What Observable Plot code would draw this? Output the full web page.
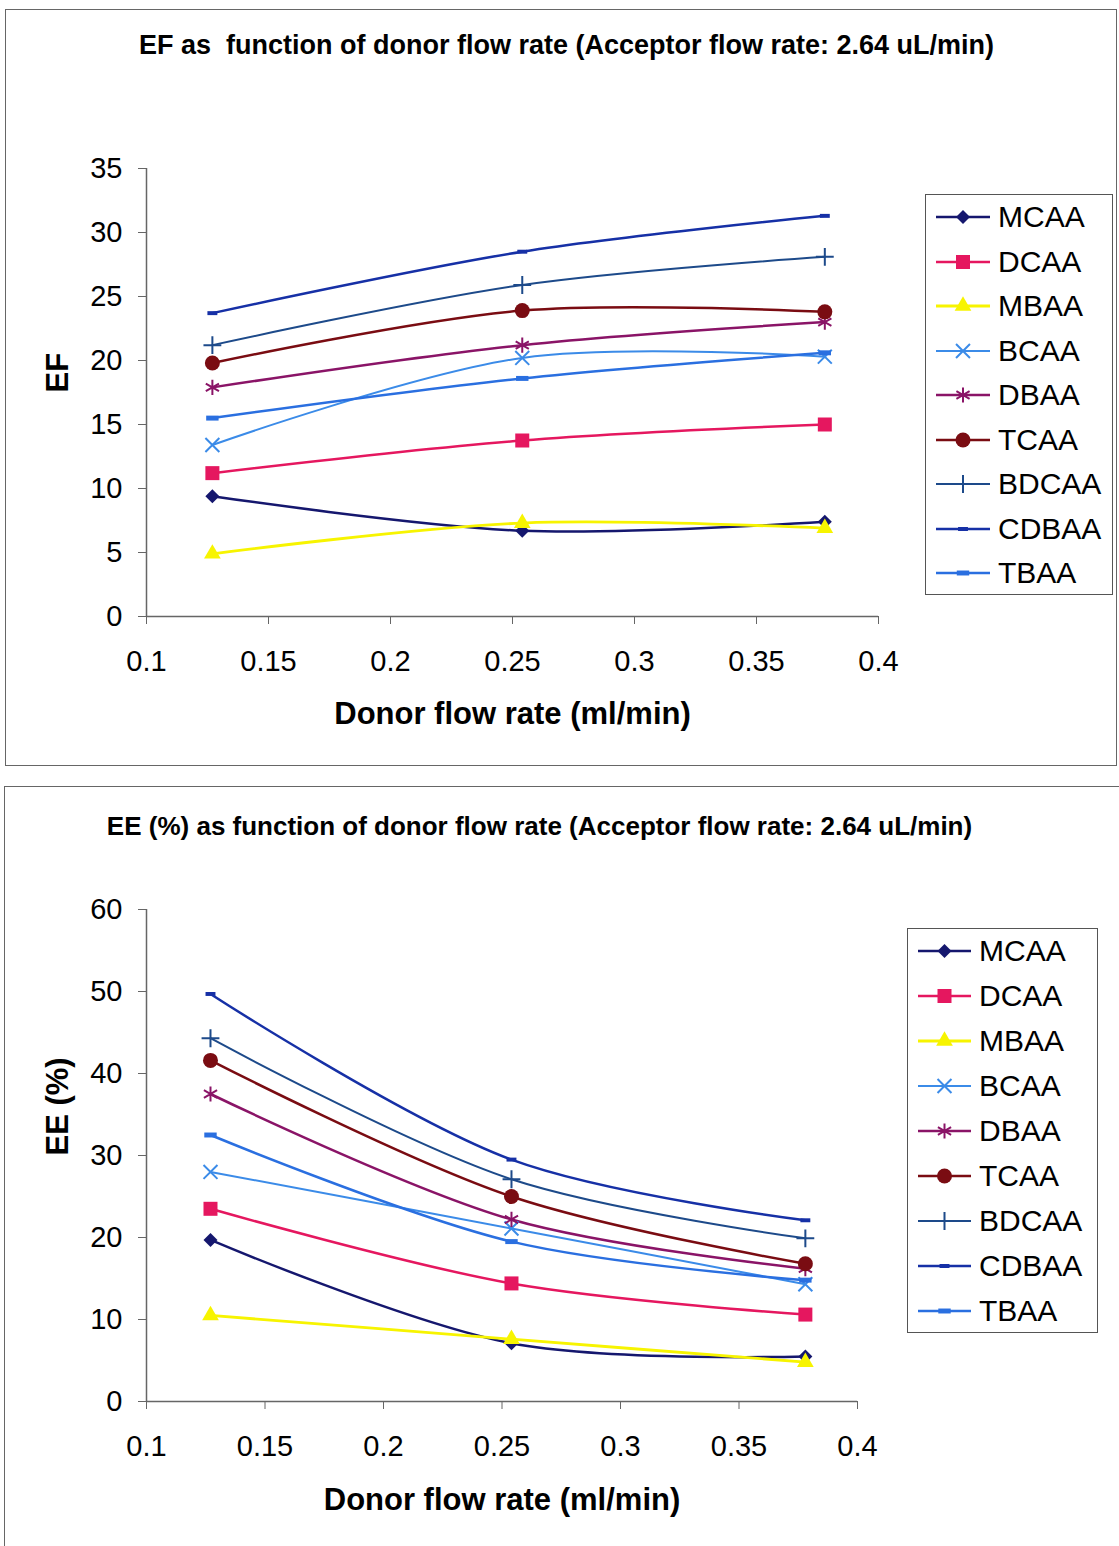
<!DOCTYPE html>
<html><head><meta charset="utf-8">
<script src="https://cdn.jsdelivr.net/npm/d3@7"></script>
<script src="https://cdn.jsdelivr.net/npm/@observablehq/plot@0.6"></script>
<style>
body{margin:0;background:#fff;font-family:"Liberation Sans",Arial,sans-serif;}
#page{position:relative;width:1119px;height:1546px;overflow:hidden;background:#fff;}
.panel{position:absolute;border:1.5px solid #666;box-sizing:border-box;}
.chart{position:absolute;left:0;}
.chart svg text{white-space:pre;}
.legend{position:absolute;border:1.5px solid #555;background:#fff;box-sizing:border-box;}
.legend .row{display:flex;align-items:center;font-size:30px;color:#000;}
.legend svg{display:block;overflow:visible;}
</style></head><body><div id="page"></div>
<script>
// ---- data ----
const flowRates = [0.127, 0.254, 0.378];
const species = ["MCAA", "DCAA", "MBAA", "BCAA", "DBAA", "TCAA", "BDCAA", "CDBAA", "TBAA"];
const xTicks = [0.1, 0.15, 0.2, 0.25, 0.3, 0.35, 0.4];
const efTicks = [0, 5, 10, 15, 20, 25, 30, 35];
const eeTicks = [0, 10, 20, 30, 40, 50, 60];

// EF values (at the three donor flow rates)
const EF_MCAA  = [9.4, 6.7, 7.4];
const EF_DCAA  = [11.2, 13.75, 15.0];
const EF_MBAA  = [4.9, 7.3, 6.9];
const EF_BCAA  = [13.4, 20.2, 20.3];
const EF_DBAA  = [17.9, 21.2, 23.0];
const EF_TCAA  = [19.8, 23.9, 23.8];
const EF_BDCAA = [21.2, 25.9, 28.1];
const EF_CDBAA = [23.7, 28.5, 31.3];
const EF_TBAA  = [15.5, 18.6, 20.6];

// EE (%) values
const EE_MCAA  = [19.7, 7.1, 5.5];
const EE_DCAA  = [23.5, 14.4, 10.6];
const EE_MBAA  = [10.5, 7.6, 4.8];
const EE_BCAA  = [28.0, 21.1, 14.3];
const EE_DBAA  = [37.5, 22.2, 16.2];
const EE_TCAA  = [41.6, 25.0, 16.8];
const EE_BDCAA = [44.3, 27.1, 19.9];
const EE_CDBAA = [49.7, 29.5, 22.1];
const EE_TBAA  = [32.5, 19.5, 14.8];

const efSeries = [EF_MCAA, EF_DCAA, EF_MBAA, EF_BCAA, EF_DBAA, EF_TCAA, EF_BDCAA, EF_CDBAA, EF_TBAA];
const eeSeries = [EE_MCAA, EE_DCAA, EE_MBAA, EE_BCAA, EE_DBAA, EE_TCAA, EE_BDCAA, EE_CDBAA, EE_TBAA];

// ---- styles ----
const dash = {draw(ctx, size) { const s = Math.sqrt(size); ctx.rect(-s / 2, -s / 5, s, s * 0.4); }};
const colors = ["#15176e", "#e5175f", "#f7f400", "#3b8be8", "#8a1467", "#7a0c12", "#1d4a8a", "#1630a6", "#2a6fe0"];
const symbols = [d3.symbolDiamond2, d3.symbolSquare, d3.symbolTriangle, d3.symbolTimes, d3.symbolAsterisk, d3.symbolCircle, d3.symbolPlus, dash, dash];
const filled = [true, true, true, false, false, true, false, true, true];
const radii = [6.3, 7.9, 6.2, 6.4, 7.2, 7.5, 5.8, 5.6, 7];
const widths = [2.5, 2.5, 2.8, 2, 2.5, 2.5, 2, 2.5, 2.5];

function tidy(series) {
  const rows = [];
  species.forEach((s, i) => series[i].forEach((v, j) => rows.push({species: s, flow: flowRates[j], value: v})));
  return rows;
}

function makeChart(cfg) {
  const data = tidy(cfg.series);
  const marks = [
    Plot.ruleX([0.1], {stroke: "#666", strokeWidth: 1.5}),
    Plot.ruleY([0], {stroke: "#666", strokeWidth: 1.5}),
    Plot.axisX({ticks: xTicks, tickFormat: d => String(+d.toFixed(2)), tickSize: 8, tickPadding: 26, fontSize: 29, stroke: "#666", fill: "#000", label: null}),
    Plot.axisY({ticks: cfg.yTicks, tickSize: 8, tickPadding: 16, fontSize: 29, stroke: "#666", fill: "#000", label: null}),
    Plot.text([cfg.xlabel], {frameAnchor: "bottom", lineAnchor: "middle", dy: cfg.xlabelDy, fontWeight: "bold", fontSize: 31, fill: "#000"}),
    Plot.text([cfg.ylabel], {frameAnchor: "left", lineAnchor: "middle", dx: -88, rotate: -90, fontWeight: "bold", fontSize: 31, fill: "#000"}),
    Plot.text([cfg.title], {frameAnchor: "top", lineAnchor: "middle", dx: cfg.titleDx, dy: cfg.titleDy, fontWeight: "bold", fontSize: cfg.titleSize, fill: "#000"})
  ];
  species.forEach((s, i) => {
    const d = data.filter(r => r.species === s);
    marks.push(Plot.line(d, {x: "flow", y: "value", stroke: colors[i], strokeWidth: widths[i], curve: "catmull-rom"}));
  });
  species.forEach((s, i) => {
    const d = data.filter(r => r.species === s);
    marks.push(Plot.dot(d, {
      x: "flow", y: "value", symbol: symbols[i], r: radii[i],
      fill: filled[i] ? colors[i] : "none",
      stroke: filled[i] ? "none" : colors[i],
      strokeWidth: 2
    }));
  });
  return Plot.plot({
    width: 1119, height: cfg.height,
    marginLeft: 146, marginRight: cfg.marginRight, marginTop: cfg.marginTop, marginBottom: cfg.marginBottom,
    style: {background: "transparent", fontFamily: "'Liberation Sans', Arial, sans-serif", overflow: "visible"},
    x: {domain: [0.1, 0.4]},
    y: {domain: cfg.yDomain},
    marks
  });
}

function makeLegend(cfg) {
  const div = document.createElement("div");
  div.className = "legend";
  Object.assign(div.style, {left: cfg.left + "px", top: cfg.top + "px", width: cfg.width + "px", height: cfg.height + "px", paddingLeft: cfg.padLeft + "px"});
  species.forEach((s, i) => {
    const row = document.createElement("div");
    row.className = "row";
    row.style.height = cfg.rowH + "px";
    const svg = d3.create("svg").attr("width", cfg.swatch).attr("height", 20).style("margin-right", cfg.gap + "px");
    svg.append("line").attr("x1", 0).attr("x2", cfg.swatch).attr("y1", 10).attr("y2", 10)
      .attr("stroke", colors[i]).attr("stroke-width", widths[i]);
    svg.append("path").attr("transform", `translate(${cfg.swatch / 2},10)`)
      .attr("d", d3.symbol(symbols[i], Math.PI * radii[i] * radii[i])())
      .attr("fill", filled[i] ? colors[i] : "none")
      .attr("stroke", filled[i] ? "none" : colors[i]).attr("stroke-width", 2);
    row.appendChild(svg.node());
    const t = document.createElement("span");
    t.textContent = s;
    row.appendChild(t);
    div.appendChild(row);
  });
  return div;
}

const page = document.getElementById("page");

function panel(l, t, w, h) {
  const p = document.createElement("div");
  p.className = "panel";
  Object.assign(p.style, {left: l + "px", top: t + "px", width: w + "px", height: h + "px"});
  page.appendChild(p);
}
panel(5, 9, 1112, 757);
panel(4, 786, 1130, 780);

// top chart
const top1 = document.createElement("div");
top1.className = "chart"; top1.style.top = "10px";
top1.appendChild(makeChart({
  series: efSeries, yTicks: efTicks, yDomain: [0, 35], height: 756,
  marginTop: 158, marginBottom: 150, marginRight: 241,
  xlabel: "Donor flow rate (ml/min)", xlabelDy: 98, ylabel: "EF",
  title: "EF as  function of donor flow rate (Acceptor flow rate: 2.64 uL/min)", titleDx: 54, titleDy: -123, titleSize: 27
}));
page.appendChild(top1);
page.appendChild(makeLegend({left: 925, top: 194, width: 188, height: 401, padLeft: 10, rowH: 44.5, swatch: 54, gap: 8}));

// bottom chart
const bot = document.createElement("div");
bot.className = "chart"; bot.style.top = "787px";
bot.appendChild(makeChart({
  series: eeSeries, yTicks: eeTicks, yDomain: [0, 60], height: 759,
  marginTop: 122, marginBottom: 145, marginRight: 262,
  xlabel: "Donor flow rate (ml/min)", xlabelDy: 99, ylabel: "EE (%)",
  title: "EE (%) as function of donor flow rate (Acceptor flow rate: 2.64 uL/min)", titleDx: 37.5, titleDy: -83, titleSize: 26
}));
page.appendChild(bot);
page.appendChild(makeLegend({left: 907, top: 928, width: 191, height: 405, padLeft: 10, rowH: 44.9, swatch: 53, gap: 8}));
</script></body></html>
